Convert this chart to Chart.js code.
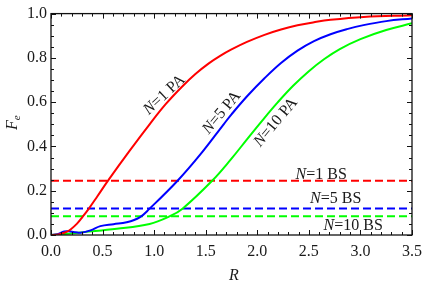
<!DOCTYPE html>
<html>
<head>
<meta charset="utf-8">
<script src="https://cdn.jsdelivr.net/npm/chart.js@4.4.0/dist/chart.umd.min.js"></script>
<style>
  html, body { margin: 0; padding: 0; background: #fff; }
</style>
</head>
<body>
<canvas id="grafico" width="429" height="286"></canvas>
<script>
// N=1 PA
const rN1 = [0, 0.05, 0.1, 0.15, 0.19, 0.25, 0.303, 0.367, 0.45, 0.558, 0.765, 0.956, 1.116, 1.275, 1.4, 1.53, 1.64, 1.75, 1.9, 2.07, 2.23, 2.39, 2.55, 2.71, 3.03, 3.5];
const fN1 = [0, 0.001, 0.006, 0.014, 0.025, 0.05, 0.08, 0.119, 0.175, 0.249, 0.382, 0.5, 0.593, 0.672, 0.727, 0.775, 0.809, 0.838, 0.872, 0.904, 0.928, 0.947, 0.961, 0.972, 0.985, 0.993];
// N=5 PA
const rN5 = [0, 0.064, 0.128, 0.19, 0.24, 0.287, 0.383, 0.478, 0.606, 0.733, 0.86, 0.956, 1.227, 1.45, 1.674, 1.75, 1.91, 2.07, 2.23, 2.39, 2.55, 2.71, 2.87, 3.03, 3.25, 3.5];
const fN5 = [0, 0.004, 0.016, 0.016, 0.012, 0.01, 0.021, 0.04, 0.049, 0.0575, 0.08, 0.119, 0.245, 0.365, 0.5, 0.545, 0.631, 0.708, 0.777, 0.833, 0.876, 0.907, 0.93, 0.948, 0.966, 0.978];
// N=10 PA
const rN10 = [0, 0.096, 0.319, 0.638, 0.956, 1.148, 1.275, 1.562, 1.75, 1.9, 2.05, 2.2, 2.35, 2.5, 2.65, 2.8, 3.0, 3.25, 3.5];
const fN10 = [0, 0.003, 0.013, 0.028, 0.05, 0.084, 0.119, 0.245, 0.345, 0.432, 0.518, 0.6, 0.675, 0.74, 0.795, 0.84, 0.885, 0.926, 0.956];
// BS levels (N=1, 5, 10)
const niveisBS = [0.245, 0.12, 0.085];
const cores = ['#ff0000', '#0000ff', '#00ff00'];
const rotulosPA = ['=1 PA', '=5 PA', '=10 PA'];
const rotulosBS = ['=1 BS', '=5 BS', '=10 BS'];

const pontos = (xs, ys) => xs.map((x, i) => ({ x: x, y: ys[i] }));
const FONTE = '"Liberation Serif", "DejaVu Serif", serif';

const curvas = [[rN1, fN1], [rN5, fN5], [rN10, fN10]].map((c, i) => ({
  data: pontos(c[0], c[1]),
  borderColor: cores[i],
  borderWidth: 2,
  pointRadius: 0,
  tension: 0.4,
  fill: false
}));

const tracejadas = niveisBS.map((v, i) => ({
  data: pontos([0, 3.5], [v, v]),
  borderColor: cores[i],
  borderWidth: 2,
  borderDash: [8, 4],
  pointRadius: 0,
  fill: false
}));

// escreve texto com "N" em itálico
function escreverRotulo(ctx, resto, x, y, ang) {
  ctx.save();
  ctx.translate(x, y);
  ctx.rotate(ang * Math.PI / 180);
  ctx.textBaseline = 'middle';
  ctx.textAlign = 'left';
  ctx.fillStyle = '#1a1a1a';
  ctx.font = 'italic 16px ' + FONTE;
  const wN = ctx.measureText('N').width;
  ctx.font = '16px ' + FONTE;
  const wR = ctx.measureText(resto).width;
  const x0 = -(wN + wR) / 2;
  ctx.font = 'italic 16px ' + FONTE;
  ctx.fillText('N', x0, 0);
  ctx.font = '16px ' + FONTE;
  ctx.fillText(resto, x0 + wN, 0);
  ctx.restore();
}

const moldura = {
  id: 'moldura',
  afterDraw(chart) {
    const ctx = chart.ctx;
    const a = chart.chartArea;
    const sx = chart.scales.x, sy = chart.scales.y;
    ctx.save();
    ctx.strokeStyle = '#111';
    ctx.lineWidth = 1.3;
    ctx.strokeRect(a.left, a.top, a.right - a.left, a.bottom - a.top);
    ctx.lineWidth = 1;
    ctx.beginPath();
    for (let k = 0; k <= 35; k++) {
      const px = Math.round(sx.getPixelForValue(k / 10)) + 0.5;
      const len = k % 5 === 0 ? 5 : 3;
      ctx.moveTo(px, a.bottom); ctx.lineTo(px, a.bottom - len);
      ctx.moveTo(px, a.top); ctx.lineTo(px, a.top + len);
    }
    for (let k = 0; k <= 20; k++) {
      const py = Math.round(sy.getPixelForValue(k / 20)) + 0.5;
      const len = k % 4 === 0 ? 5 : 3;
      ctx.moveTo(a.left, py); ctx.lineTo(a.left + len, py);
      ctx.moveTo(a.right, py); ctx.lineTo(a.right - len, py);
    }
    ctx.stroke();

    // títulos dos eixos
    ctx.fillStyle = '#1a1a1a';
    ctx.textBaseline = 'middle';
    ctx.textAlign = 'center';
    ctx.font = 'italic 16px ' + FONTE;
    ctx.fillText('R', 234, 276);
    ctx.save();
    ctx.translate(13, 123);
    ctx.rotate(-Math.PI / 2);
    ctx.textAlign = 'left';
    ctx.font = 'italic 16px ' + FONTE;
    const wF = ctx.measureText('F').width;
    ctx.fillText('F', -7, 0);
    ctx.font = 'italic 11px ' + FONTE;
    ctx.fillText('e', -7 + wF, 4);
    ctx.restore();

    // rótulos das curvas
    const posPA = [[1.10, 0.633, -43], [1.655, 0.553, -50], [2.18, 0.509, -50]];
    const posBS = [[2.62, 0.274], [2.76, 0.164], [2.93, 0.042]];
    rotulosPA.forEach((t, i) => {
      const p = posPA[i];
      escreverRotulo(ctx, t, sx.getPixelForValue(p[0]), sy.getPixelForValue(p[1]), p[2]);
    });
    rotulosBS.forEach((t, i) => {
      const p = posBS[i];
      escreverRotulo(ctx, t, sx.getPixelForValue(p[0]), sy.getPixelForValue(p[1]), 0);
    });
    ctx.restore();
  }
};

new Chart(document.getElementById('grafico').getContext('2d'), {
  type: 'line',
  data: { datasets: curvas.concat(tracejadas) },
  options: {
    responsive: false,
    animation: false,
    devicePixelRatio: 1,
    layout: { padding: { top: 9, right: 12, left: 0, bottom: 0 } },
    plugins: { legend: { display: false }, tooltip: { enabled: false } },
    scales: {
      x: {
        type: 'linear',
        min: 0,
        max: 3.5,
        grid: { display: false, drawTicks: false },
        border: { display: false },
        ticks: {
          stepSize: 0.5,
          padding: 7,
          maxRotation: 0,
          color: '#1a1a1a',
          font: { family: FONTE, size: 16 },
          callback: v => v.toFixed(1)
        },
        afterFit: s => { s.height = 51; }
      },
      y: {
        min: 0,
        max: 1,
        grid: { display: false, drawTicks: false },
        border: { display: false },
        ticks: {
          stepSize: 0.2,
          padding: 4,
          color: '#1a1a1a',
          font: { family: FONTE, size: 16 },
          callback: v => v.toFixed(1)
        },
        afterFit: s => { s.width = 51; }
      }
    }
  },
  plugins: [moldura]
});
</script>
</body>
</html>
